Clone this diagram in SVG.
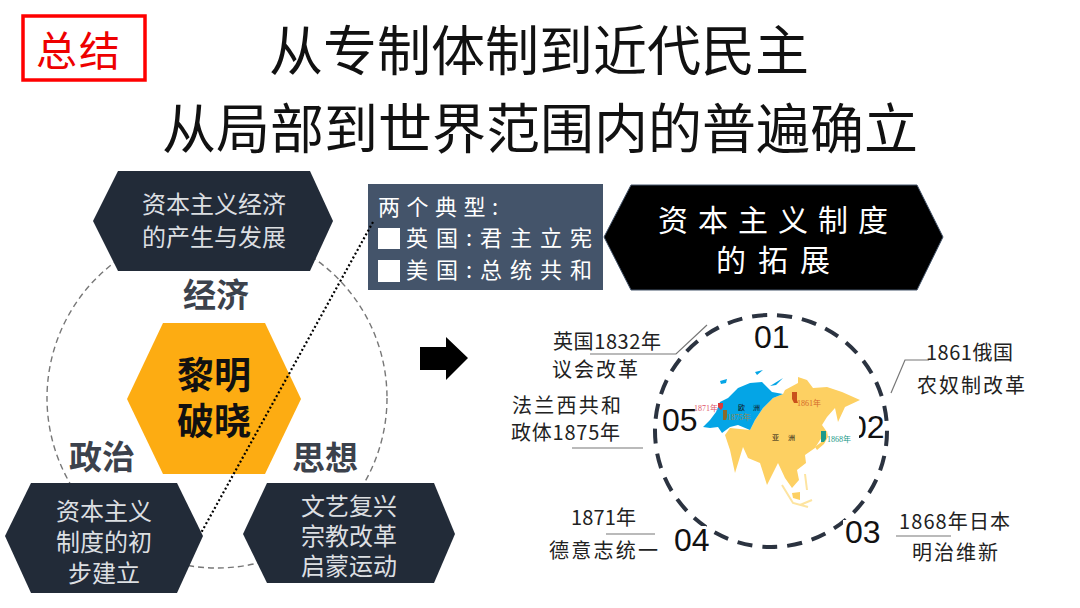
<svg xmlns="http://www.w3.org/2000/svg" width="1080" height="608" viewBox="0 0 1080 608">
<style>
text{font-family:"Noto Sans CJK SC","Liberation Sans",sans-serif}
.title{font-size:54px;fill:#111;text-anchor:middle}
.hex{fill:#222b38}
.nt{font-size:24px;fill:#dcdfe2;text-anchor:middle}
.cap{font-size:33px;font-weight:700;fill:#3c424c;text-anchor:middle}
.box{font-size:22px;fill:#fff}
.lab{font-size:20px;fill:#222}
.num{font-family:"Liberation Sans",Arial,sans-serif;font-size:32px;fill:#111}
.lead{fill:none;stroke:#777;stroke-width:1.2}
.m{font-family:"Liberation Serif","Noto Sans CJK SC",serif;font-size:8px}
.mk{font-size:7px;fill:#111}
</style>
<rect width="1080" height="608" fill="#fff"/>
<g id="badge">
<rect x="23" y="16" width="122" height="64" fill="#fff" stroke="#f00" stroke-width="3.5"/>
<text x="36" y="66" font-size="41" fill="#e00" textLength="84" lengthAdjust="spacing">总结</text>
</g>
<g id="titles">
<text class="title" x="539" y="71">从专制体制到近代民主</text>
<text class="title" x="540" y="149">从局部到世界范围内的普遍确立</text>
</g>
<g id="cycle"><circle cx="217" cy="398" r="170" fill="none" stroke="#777" stroke-width="1.4" stroke-dasharray="6 4"/></g>
<g id="node-economy">
<polygon class="hex" points="93,221 118,171 310,171 333,221 310,271 118,271"/>
<text class="nt" x="214" y="213">资本主义经济</text>
<text class="nt" x="214" y="246">的产生与发展</text>
</g>
<g id="node-center">
<polygon fill="#fdac12" points="127,399 163,323 265,323 301,399 265,474 163,474"/>
<text x="214" y="389" font-size="37" font-weight="700" fill="#111" text-anchor="middle">黎明</text>
<text x="214" y="435" font-size="37" font-weight="700" fill="#111" text-anchor="middle">破晓</text>
</g>
<g id="caption-economy"><text class="cap" x="216" y="307">经济</text></g>
<g id="caption-politics"><text class="cap" x="102" y="469">政治</text></g>
<g id="caption-thought"><text class="cap" x="325" y="470">思想</text></g>
<g id="node-politics">
<polygon class="hex" points="5,536 31,483 177,483 203,536 177,593 31,593"/>
<text class="nt" x="104" y="520">资本主义</text>
<text class="nt" x="104" y="551">制度的初</text>
<text class="nt" x="104" y="582">步建立</text>
</g>
<g id="node-thought">
<polygon class="hex" points="243,534 267,483 434,483 455,534 434,583 267,583"/>
<text class="nt" x="349" y="515">文艺复兴</text>
<text class="nt" x="349" y="545">宗教改革</text>
<text class="nt" x="349" y="575">启蒙运动</text>
</g>
<g id="node-types">
<rect x="368" y="184" width="235" height="106" fill="#44546a"/>
<text class="box" x="378" y="215" textLength="120" lengthAdjust="spacing">两个典型:</text>
<rect x="378" y="228" width="22" height="21" fill="#fff"/>
<text class="box" x="406" y="246" textLength="186" lengthAdjust="spacing">英国:君主立宪</text>
<rect x="378" y="260" width="22" height="22" fill="#fff"/>
<text class="box" x="406" y="278" textLength="186" lengthAdjust="spacing">美国:总统共和</text>
</g>
<g id="node-system">
<polygon fill="#000" stroke="#44546a" stroke-width="1" points="604,237 631,185 917,185 943,237 917,290 631,290"/>
<text x="658" y="231" font-size="30" fill="#fff" textLength="230" lengthAdjust="spacing">资本主义制度</text>
<text x="716" y="271" font-size="30" fill="#fff" textLength="114" lengthAdjust="spacing">的拓展</text>
</g>
<g id="arrow"><polygon fill="#000" points="420,347 446,347 446,337 468,358 446,380 446,370 420,370"/></g>
<g id="ring">
<circle cx="771" cy="431" r="116" fill="none" stroke="#2b3340" stroke-width="4" stroke-dasharray="15.1 10"/>
<rect x="846" y="410" width="12" height="30" fill="#fff"/>
<rect x="660" y="408" width="34" height="26" fill="#fff"/>
<rect x="672" y="526" width="34" height="26" fill="#fff"/>
<rect x="843" y="520" width="34" height="26" fill="#fff"/>
<text class="num" x="754" y="348">01</text>
<text class="num" x="662" y="431">05</text>
<text class="num" x="849" y="438">02</text>
<rect x="846" y="410" width="13" height="30" fill="#fff"/>
<text class="num" x="845" y="543">03</text>
<text class="num" x="674" y="551">04</text>
</g>
<g id="map">
<path fill="#fdd062" d="M783 394L785 390 798 383 798 377 807 380 813 388 827 387 842 392 860 400 845 407 838 422 835 408 827 417 822 425 827 432 820 440 815 448 805 455 806 463 797 470 799 480 792 488 785 478 778 463 767 485 760 463 748 458 743 447 735 473 730 450 725 435 730 428 750 430 755 420 763 408 773 398Z"/>
<path fill="#fdd062" d="M815 447L824 440 827 431 828 437 824 444 817 450ZM792 493L800 492 800 500 793 498Z"/>
<path fill="none" stroke="#fde4a0" stroke-width="2" d="M782 485L793 503 808 507M805 474L807 490M800 505L812 500"/>
<path fill="#04a5e6" d="M703 427L710 420 716 412 720 402 728 398 738 388 750 383 762 382 772 392 783 394 773 398 763 408 755 420 750 430 738 425 730 427 722 433 718 427 710 428ZM720 381L727 379 726 383 721 384ZM755 372L763 370 757 375ZM770 386L783 378 776 385Z"/>
<path fill="#d83a3a" d="M718 403h5v4l-2 3-3-3z"/>
<path fill="#8a6a2a" d="M723 410h4v7l-1 3h-3z"/>
<path fill="#c9511c" d="M792 392h5v8l1 3h-4l-2-4z"/>
<path fill="#1c9a8a" d="M821 431h5v8l-2 3h-3z"/>
<text class="m" x="694" y="411" fill="#e0566a">1871年</text>
<text class="m" x="727" y="420" fill="#8d8a55">1875年</text>
<text class="m" x="797" y="406" fill="#d4682a">1861年</text>
<text class="m" x="827" y="442" fill="#1c9a8a">1868年</text>
<text class="mk" x="738" y="410" textLength="22" lengthAdjust="spacing">欧洲</text>
<text class="mk" x="772" y="440" textLength="23" lengthAdjust="spacing">亚洲</text>
</g>
<g id="connectors">
<line x1="373" y1="222" x2="201" y2="533" stroke="#000" stroke-width="2.2" stroke-dasharray="2 2.4"/>
<path class="lead" d="M590 354H676L707 325"/>
<path class="lead" d="M929 360H905L891 393"/>
<path class="lead" d="M572 448H643"/>
<path class="lead" d="M606 534H655"/>
<path class="lead" d="M896 536H951"/>
</g>
<g id="labels">
<text class="lab" x="553" y="349" textLength="108" lengthAdjust="spacing">英国1832年</text>
<text class="lab" x="552" y="377" textLength="86" lengthAdjust="spacing">议会改革</text>
<text class="lab" x="926" y="360" textLength="87" lengthAdjust="spacing">1861俄国</text>
<text class="lab" x="917" y="393" textLength="108" lengthAdjust="spacing">农奴制改革</text>
<text class="lab" x="512" y="413" textLength="109" lengthAdjust="spacing">法兰西共和</text>
<text class="lab" x="511" y="440" textLength="109" lengthAdjust="spacing">政体1875年</text>
<text class="lab" x="571" y="525" textLength="65" lengthAdjust="spacing">1871年</text>
<text class="lab" x="549" y="558" textLength="109" lengthAdjust="spacing">德意志统一</text>
<text class="lab" x="899" y="529" textLength="111" lengthAdjust="spacing">1868年日本</text>
<text class="lab" x="912" y="560" textLength="86" lengthAdjust="spacing">明治维新</text>
</g>
</svg>
